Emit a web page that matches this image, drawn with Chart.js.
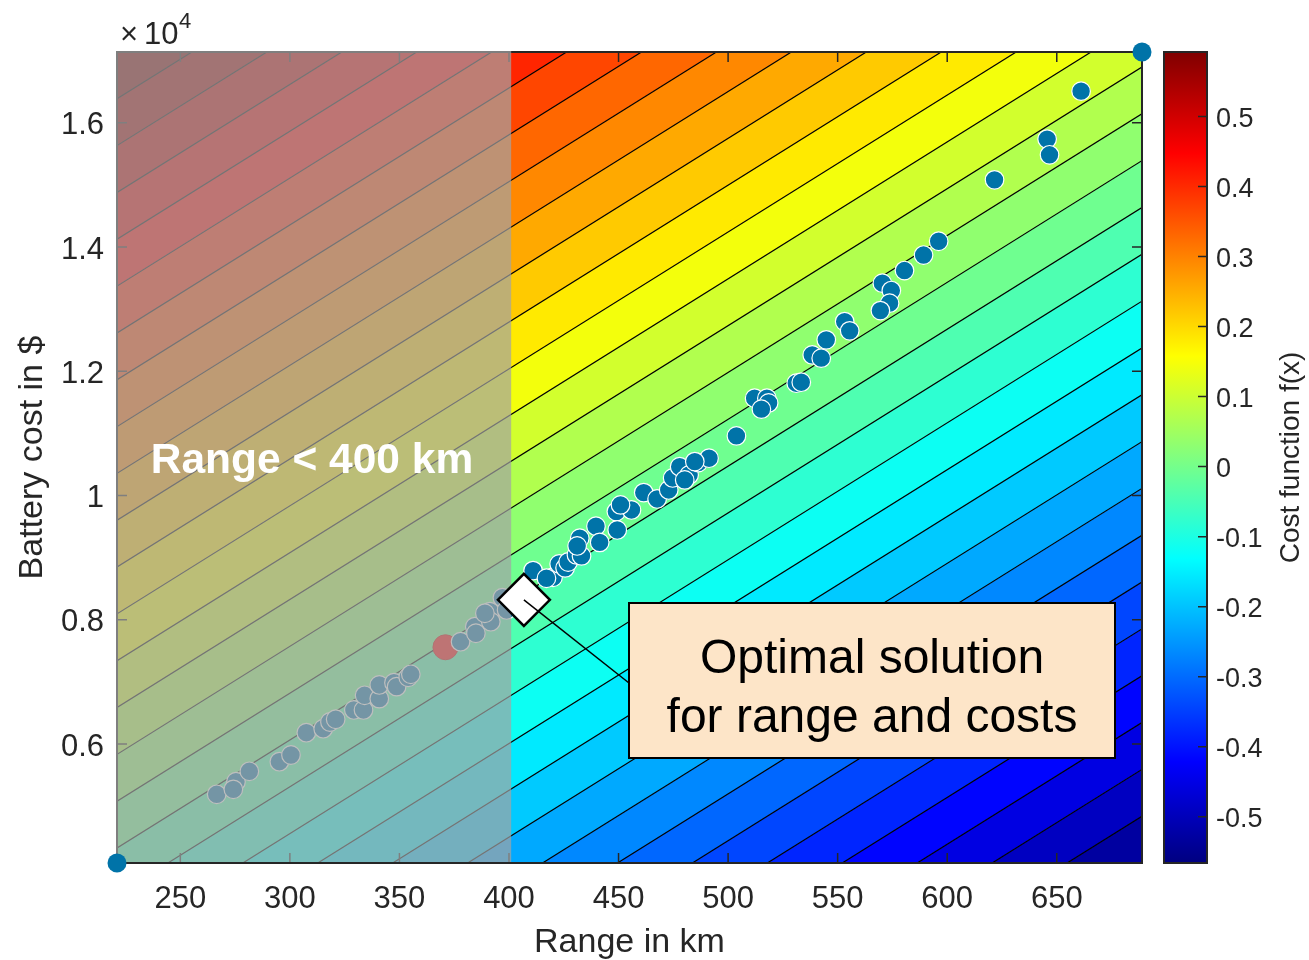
<!DOCTYPE html>
<html>
<head>
<meta charset="utf-8">
<title>Range vs battery cost</title>
<script src="https://cdn.jsdelivr.net/npm/chart.js@4.4.1/dist/chart.umd.min.js"></script>
<style>
  html, body { margin: 0; padding: 0; background: #fff; }
</style>
</head>
<body>
<canvas id="costChart" width="1309" height="960"></canvas>
<script>
// Axis limits (the two corner markers sit on them)
const X_MIN = 221.1, X_MAX = 688.9;
const Y_MIN = 4084, Y_MAX = 17140;
const X_TICKS = [250, 300, 350, 400, 450, 500, 550, 600, 650];
const Y_TICKS = [6000, 8000, 10000, 12000, 14000, 16000];
const CB_TICKS = [-0.5, -0.4, -0.3, -0.2, -0.1, 0, 0.1, 0.2, 0.3, 0.4, 0.5];

// Cost function f(x) behind the points: colour limits and weights
const F_MIN = -0.566, F_MAX = 0.592;
const W_RANGE = 0.511, W_COST = 0.647;
const N_LEVELS = 30;
const RANGE_LIMIT = 401;

// Candidate designs (range in km, battery cost in $)
const RANGE_KM = [266.6, 275.4, 274.2, 281.5, 295.2, 300.5, 307.5, 315.2, 318.3, 320.9,
    329.2, 333.6, 334.1, 340.8, 340.8, 347.5, 348.7, 354.0, 355.2, 377.9,
    384.4, 384.9, 391.3, 391.7, 389.0, 397.0, 398.9, 411.0, 420.1, 417.1,
    422.9, 425.6, 427.0, 430.8, 433.1, 432.3, 431.1, 439.7, 441.4, 449.0,
    449.4, 455.9, 450.9, 461.5, 467.6, 472.9, 474.7, 477.9, 482.2, 480.2,
    486.4, 491.3, 484.8, 503.8, 512.1, 517.7, 518.5, 515.2, 531.1, 533.4,
    538.4, 542.5, 544.8, 553.2, 555.5, 570.4, 574.5, 573.7, 569.5, 580.5,
    589.2, 596.1, 621.6, 645.6, 646.7, 661.1];
const COST_USD = [5190, 5393, 5270, 5560, 5715, 5823, 6182, 6246, 6354, 6398,
    6548, 6548, 6784, 6730, 6950, 6987, 6923, 7074, 7122, 7647,
    7889, 7783, 8130, 7969, 8105, 8356, 8158, 8791, 8684, 8668,
    8899, 8835, 8930, 9044, 9028, 9312, 9188, 9506, 9245, 9741,
    9446, 9768, 9849, 10047, 9945, 10090, 10283, 10465, 10332, 10251,
    10530, 10601, 10546, 10960, 11567, 11567, 11491, 11390, 11808, 11824,
    12264, 12211, 12506, 12800, 12651, 13419, 13300, 13097, 12977, 13622,
    13871, 14093, 15082, 15738, 15485, 16510];

// Best design ignoring the range limit (red) and chosen optimum (diamond)
const RED_RANGE = [371.0], RED_COST = [7557];
const OPT_RANGE = [406.8], OPT_COST = [8320];
const BOUND_RANGE = [221.1, 688.9], BOUND_COST = [4084, 17140];

const BLUE = 'rgb(0,115,168)';
const INK = '#262626';
const FONT = '"Liberation Sans", Arial, Helvetica, sans-serif';

Chart.defaults.font.family = FONT;
Chart.defaults.color = INK;

function toPoints(xs, ys) {
    return xs.map((v, i) => ({ x: v, y: ys[i] }));
}

// jet colour map, t in [0, 1]
function jet(t) {
    const c = v => Math.round(255 * Math.max(0, Math.min(1, v)));
    return 'rgb(' + c(1.5 - Math.abs(4 * t - 3)) + ',' + c(1.5 - Math.abs(4 * t - 2)) + ',' + c(1.5 - Math.abs(4 * t - 1)) + ')';
}

// battery cost where f equals a given level, for a given range
function levelCost(level, range) {
    return Y_MIN + (level - F_MIN - W_RANGE * (X_MAX - range) / (X_MAX - X_MIN)) * (Y_MAX - Y_MIN) / W_COST;
}

// Filled contour map, contour lines and the axes box
const contourPlugin = {
    id: 'contour',
    beforeDatasetsDraw(chart) {
        const ctx = chart.ctx, a = chart.chartArea;
        const xs = chart.scales.x, ys = chart.scales.y;
        const step = (F_MAX - F_MIN) / (N_LEVELS + 1);
        const xa = X_MIN - 400, xb = X_MAX + 400;
        const px = v => xs.getPixelForValue(v);
        const py = v => ys.getPixelForValue(v);
        ctx.save();
        ctx.beginPath();
        ctx.rect(a.left, a.top, a.right - a.left, a.bottom - a.top);
        ctx.clip();
        // each band takes the colour of its upper level
        for (let k = -1; k <= N_LEVELS + 1; k++) {
            const lo = F_MIN + k * step, hi = lo + step;
            ctx.fillStyle = jet(Math.max(0, Math.min(1, (k + 1) / (N_LEVELS + 1))));
            ctx.beginPath();
            ctx.moveTo(px(xa), py(levelCost(lo, xa)));
            ctx.lineTo(px(xb), py(levelCost(lo, xb)));
            ctx.lineTo(px(xb), py(levelCost(hi, xb)));
            ctx.lineTo(px(xa), py(levelCost(hi, xa)));
            ctx.closePath();
            ctx.fill();
        }
        ctx.strokeStyle = '#000';
        ctx.lineWidth = 1.2;
        for (let k = 1; k <= N_LEVELS; k++) {
            const lv = F_MIN + k * step;
            ctx.beginPath();
            ctx.moveTo(px(xa), py(levelCost(lv, xa)));
            ctx.lineTo(px(xb), py(levelCost(lv, xb)));
            ctx.stroke();
        }
        ctx.restore();

        // box and inward ticks on all four sides
        ctx.save();
        ctx.strokeStyle = INK;
        ctx.lineWidth = 2;
        ctx.strokeRect(a.left, a.top, a.right - a.left, a.bottom - a.top);
        ctx.lineWidth = 1.5;
        ctx.beginPath();
        X_TICKS.forEach(v => {
            ctx.moveTo(px(v), a.bottom); ctx.lineTo(px(v), a.bottom - 10);
            ctx.moveTo(px(v), a.top); ctx.lineTo(px(v), a.top + 10);
        });
        Y_TICKS.forEach(v => {
            ctx.moveTo(a.left, py(v)); ctx.lineTo(a.left + 10, py(v));
            ctx.moveTo(a.right, py(v)); ctx.lineTo(a.right - 10, py(v));
        });
        ctx.stroke();
        ctx.restore();
    },
    // grey veil over the infeasible part, drawn right after the candidate points
    afterDatasetDraw(chart, args) {
        if (args.index !== 2) return;
        const ctx = chart.ctx, a = chart.chartArea;
        const xs = chart.scales.x, ys = chart.scales.y;
        const edge = xs.getPixelForValue(RANGE_LIMIT);
        ctx.save();
        ctx.fillStyle = 'rgba(163,163,163,0.71)';
        ctx.fillRect(a.left - 1, a.top - 1, edge - a.left + 1, a.bottom - a.top);
        ctx.strokeStyle = INK;
        ctx.lineWidth = 2;
        ctx.beginPath();
        ctx.moveTo(a.left - 1, a.bottom);
        ctx.lineTo(a.right, a.bottom);
        ctx.stroke();
        ctx.fillStyle = '#fff';
        ctx.font = 'bold 42.5px ' + FONT;
        ctx.textBaseline = 'alphabetic';
        ctx.fillText('Range < 400 km', xs.getPixelForValue(236.5), ys.getPixelForValue(10360));
        ctx.restore();
    },
    afterDatasetsDraw(chart) {
        const ctx = chart.ctx, a = chart.chartArea;
        const xs = chart.scales.x, ys = chart.scales.y, cb = chart.scales.cb;

        // annotation line and text box
        const box = { left: 629, top: 603, right: 1115, bottom: 758 };
        ctx.save();
        ctx.strokeStyle = '#000';
        ctx.lineWidth = 1.5;
        ctx.beginPath();
        ctx.moveTo(xs.getPixelForValue(OPT_RANGE[0]), ys.getPixelForValue(OPT_COST[0]));
        ctx.lineTo(box.left, 683);
        ctx.stroke();
        ctx.fillStyle = 'rgb(253,229,200)';
        ctx.fillRect(box.left, box.top, box.right - box.left, box.bottom - box.top);
        ctx.lineWidth = 2;
        ctx.strokeRect(box.left, box.top, box.right - box.left, box.bottom - box.top);
        ctx.fillStyle = '#000';
        ctx.font = '48px ' + FONT;
        ctx.textAlign = 'center';
        ctx.textBaseline = 'alphabetic';
        const cx = (box.left + box.right) / 2;
        ctx.fillText('Optimal solution', cx, 673);
        ctx.fillText('for range and costs', cx, 732);
        ctx.restore();

        // exponent of the y axis
        ctx.save();
        ctx.fillStyle = INK;
        ctx.textBaseline = 'alphabetic';
        ctx.font = '31px ' + FONT;
        ctx.fillText('\u00d7', a.left + 3, a.top - 8);
        ctx.fillText('10', a.left + 27, a.top - 8);
        ctx.font = '22px ' + FONT;
        ctx.fillText('4', a.left + 62, a.top - 24);
        ctx.restore();

        // colour bar
        const cl = a.right + 22, cr = a.right + 65;
        const ct = cb.getPixelForValue(F_MAX), cbot = cb.getPixelForValue(F_MIN);
        const g = ctx.createLinearGradient(0, cbot, 0, ct);
        for (let i = 0; i <= 16; i++) g.addColorStop(i / 16, jet(i / 16));
        ctx.save();
        ctx.fillStyle = g;
        ctx.fillRect(cl, ct, cr - cl, cbot - ct);
        ctx.strokeStyle = INK;
        ctx.lineWidth = 2;
        ctx.strokeRect(cl, ct, cr - cl, cbot - ct);
        ctx.lineWidth = 1.5;
        ctx.beginPath();
        CB_TICKS.forEach(v => {
            ctx.moveTo(cr, cb.getPixelForValue(v));
            ctx.lineTo(cr - 9, cb.getPixelForValue(v));
        });
        ctx.stroke();
        ctx.translate(1291, (ct + cbot) / 2);
        ctx.rotate(-Math.PI / 2);
        ctx.fillStyle = INK;
        ctx.font = '28px ' + FONT;
        ctx.textAlign = 'center';
        ctx.textBaseline = 'middle';
        ctx.fillText('Cost function f(x)', 0, 0);
        ctx.restore();
    }
};

const hidden = { display: false, drawTicks: false };

// fixed axis sizes so the plot box lands where the reference has it
function fixWidth(w) {
    return s => { s.width = w; s.paddingTop = 0; s.paddingBottom = 0; };
}

new Chart(document.getElementById('costChart'), {
    type: 'scatter',
    data: {
        datasets: [{
            label: 'Optimal solution',
            data: toPoints(OPT_RANGE, OPT_COST),
            pointStyle: 'rectRot',
            pointRadius: 26,
            backgroundColor: '#fff',
            borderColor: '#000',
            borderWidth: 2.5,
            order: 1
        }, {
            label: 'Limits',
            data: toPoints(BOUND_RANGE, BOUND_COST),
            pointRadius: 9.5,
            backgroundColor: BLUE,
            borderWidth: 0,
            clip: false,
            order: 2
        }, {
            label: 'Candidates',
            data: toPoints(RANGE_KM, COST_USD),
            pointRadius: 9.3,
            backgroundColor: BLUE,
            borderColor: '#fff',
            borderWidth: 1.2,
            order: 4
        }, {
            label: 'Unconstrained',
            data: toPoints(RED_RANGE, RED_COST),
            pointRadius: 12.5,
            backgroundColor: '#ff0000',
            borderColor: '#d00000',
            borderWidth: 1,
            order: 5
        }]
    },
    options: {
        responsive: false,
        devicePixelRatio: 1,
        animation: false,
        events: [],
        layout: { padding: { top: 52, left: 0, right: 0, bottom: 0 } },
        plugins: { legend: { display: false }, tooltip: { enabled: false } },
        scales: {
            x: {
                type: 'linear',
                min: X_MIN,
                max: X_MAX,
                grid: hidden,
                border: { display: false },
                afterBuildTicks: s => { s.ticks = X_TICKS.map(v => ({ value: v })); },
                afterFit: s => { s.height = 97; s.paddingLeft = 0; s.paddingRight = 0; },
                ticks: { autoSkip: false, maxRotation: 0, padding: 18, font: { size: 31 }, color: INK },
                title: { display: true, text: 'Range in km', font: { size: 34, lineHeight: 1 }, color: INK, padding: { top: 0, bottom: 0 } }
            },
            y: {
                type: 'linear',
                position: 'left',
                min: Y_MIN,
                max: Y_MAX,
                grid: hidden,
                border: { display: false },
                afterBuildTicks: s => { s.ticks = Y_TICKS.map(v => ({ value: v })); },
                afterFit: fixWidth(117),
                ticks: { autoSkip: false, padding: 13, labelOffset: 3, font: { size: 31 }, color: INK, callback: v => String(v / 1e4) },
                title: { display: true, text: 'Battery cost in $', font: { size: 34 }, color: INK, padding: { top: 12, bottom: 0 } }
            },
            cb: {
                type: 'linear',
                position: 'right',
                min: F_MIN,
                max: F_MAX,
                grid: hidden,
                border: { display: false },
                afterBuildTicks: s => { s.ticks = CB_TICKS.map(v => ({ value: v })); },
                afterFit: fixWidth(167),
                ticks: { autoSkip: false, padding: 74, labelOffset: 3, font: { size: 27 }, color: INK, callback: v => String(v) }
            }
        }
    },
    plugins: [contourPlugin]
});
</script>
</body>
</html>
